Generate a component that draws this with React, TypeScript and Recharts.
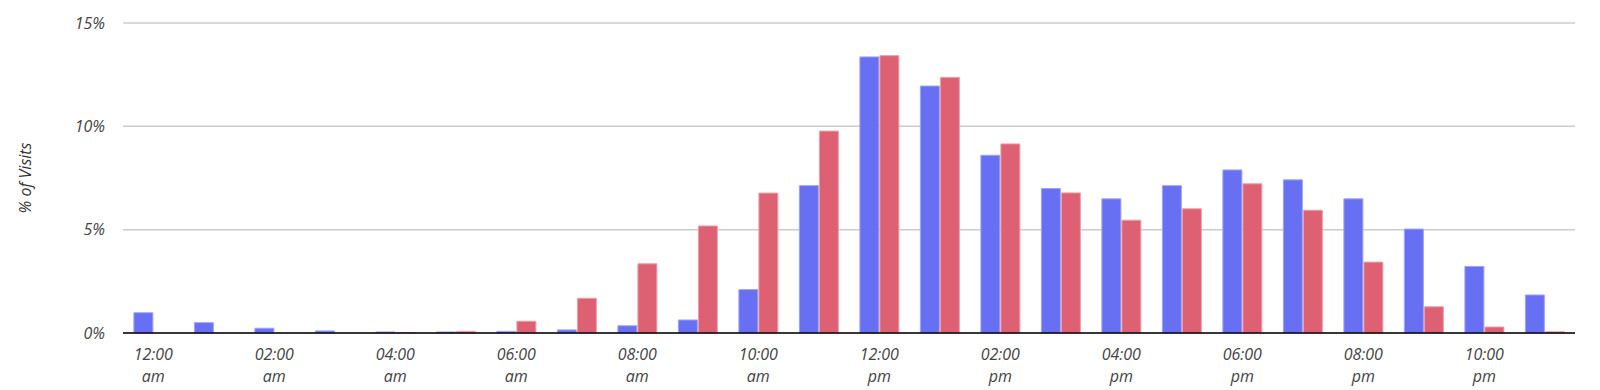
import { BarChart, Bar, XAxis, YAxis, CartesianGrid } from "recharts";

const hours = [
  "12:00 am", "01:00 am", "02:00 am", "03:00 am", "04:00 am", "05:00 am",
  "06:00 am", "07:00 am", "08:00 am", "09:00 am", "10:00 am", "11:00 am",
  "12:00 pm", "01:00 pm", "02:00 pm", "03:00 pm", "04:00 pm", "05:00 pm",
  "06:00 pm", "07:00 pm", "08:00 pm", "09:00 pm", "10:00 pm", "11:00 pm",
];

const seriesA = [
  0.98, 0.5, 0.23, 0.1, 0.05, 0.05, 0.08, 0.15, 0.35, 0.63, 2.1, 7.13,
  13.36, 11.95, 8.6, 6.99, 6.49, 7.13, 7.89, 7.41, 6.49, 5.03, 3.22, 1.84,
];

const seriesB = [
  0, 0, 0, 0, 0.02, 0.08, 0.57, 1.68, 3.35, 5.18, 6.77, 9.77,
  13.42, 12.37, 9.15, 6.78, 5.46, 6.01, 7.22, 5.94, 3.43, 1.27, 0.29, 0.06,
];

const yTicks = [0, 5, 10, 15];

const data = hours.map((h, i) => ({ hour: h, a: seriesA[i], b: seriesB[i] }));

const FONT = "'Open Sans', sans-serif";

function HourTick(props: any) {
  const { x, y, payload } = props;
  const [time, ampm] = String(payload.value).split(" ");
  return (
    <g transform={`translate(${x},${y})`}>
      <text
        textAnchor="middle"
        fill="#444"
        fontSize={16}
        fontStyle="italic"
        fontFamily={FONT}
      >
        <tspan x={0} dy={19}>{time}</tspan>
        <tspan x={0} dy={22}>{ampm}</tspan>
      </text>
    </g>
  );
}

function AxisTitle(props: any) {
  const { viewBox } = props;
  const cx = viewBox.x + 25;
  const cy = viewBox.y + viewBox.height / 2;
  return (
    <text
      x={cx}
      y={cy}
      transform={`rotate(-90, ${cx}, ${cy})`}
      textAnchor="middle"
      dominantBaseline="central"
      fill="#333"
      fontSize={16}
      fontStyle="italic"
      fontFamily={FONT}
    >
      % of Visits
    </text>
  );
}

export default function App() {
  return (
    <div style={{ position: "absolute", left: 0, top: 0, background: "#fff" }}>
      <BarChart
        width={1600}
        height={390}
        data={data}
        margin={{ top: 23, right: 25, left: 0, bottom: 0 }}
        barCategoryGap="18%"
        barGap={1}
      >
        <CartesianGrid vertical={false} stroke="#cccccc" strokeWidth={1.5} />
        <XAxis
          dataKey="hour"
          interval={1}
          tickLine={false}
          axisLine={{ stroke: "#000", strokeWidth: 1.5 }}
          tick={<HourTick />}
          height={57}
        />
        <YAxis
          width={123}
          domain={[0, 15]}
          ticks={yTicks}
          tickFormatter={(v) => `${v}%`}
          axisLine={false}
          tickLine={false}
          tickMargin={12}
          tick={{ fill: "#444", fontSize: 16, fontStyle: "italic", fontFamily: FONT }}
          label={<AxisTitle />}
        />
        <Bar
          dataKey="a"
          fill="#6770f3"
          stroke="#9ea3f7"
          strokeWidth={1}
          isAnimationActive={false}
        />
        <Bar
          dataKey="b"
          fill="#de6073"
          stroke="#eba0ab"
          strokeWidth={1}
          isAnimationActive={false}
        />
      </BarChart>
    </div>
  );
}
